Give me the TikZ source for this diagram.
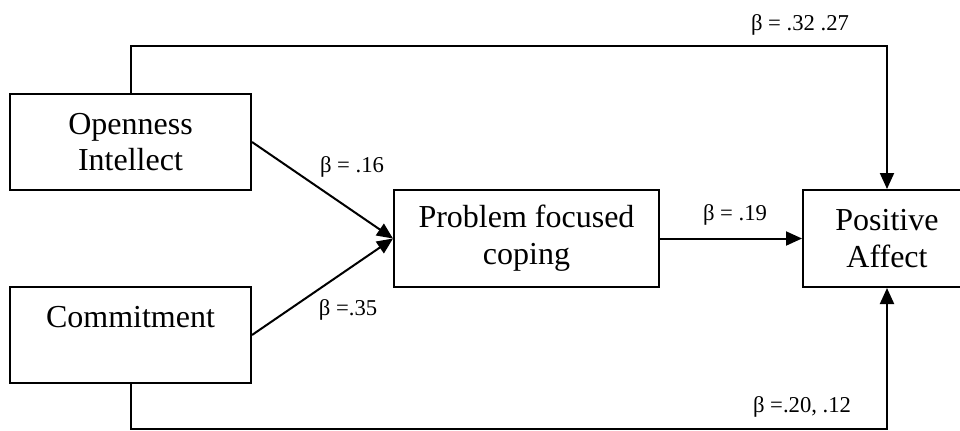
\documentclass[tikz,border=0pt]{standalone}
\usepackage{fontspec}
\setmainfont{Liberation Serif}
\usetikzlibrary{arrows.meta}
\begin{document}
\begin{tikzpicture}[x=0.75pt,y=-0.75pt,
  box/.style={draw,line width=1.5pt,inner sep=0pt,align=center,
    font=\fontsize{24}{27.6}\selectfont},
  conn/.style={line width=1.5pt},
  arr/.style={conn,-{Triangle[length=12pt,width=10.5pt]}},
  lbl/.style={font=\fontsize{17}{19}\selectfont,inner sep=0pt}]
\useasboundingbox (0,0) rectangle (960,430);
\clip (0,0) rectangle (960,430);
\fill[white] (0,0) rectangle (960,430);
\node[box,minimum width=180.75pt,minimum height=72pt] (open) at (130.5,142) {Openness\\Intellect};
\node[box,minimum width=180.75pt,minimum height=72pt] (comm) at (130.5,335) {};
\node[font=\fontsize{24}{27.6}\selectfont,inner sep=0pt] (commtxt) at (130.5,317) {Commitment};
\node[box,minimum width=198.75pt,minimum height=72.75pt] (pfc) at (526.5,238.5) {Problem focused\\coping};
\node[box,minimum width=126pt,minimum height=72.75pt] (pa) at (887,238.5) {Positive\\Affect};
\coordinate (topy) at (0,46);
\coordinate (boty) at (0,428.5);
\draw[arr] (open.north) -- (open.north |- topy) -| (pa.north);
\draw[arr] (comm.south) -- (comm.south |- boty) -| (pa.south);
\draw[arr] (open.east) -- (pfc.west);
\draw[arr] (comm.east) -- (pfc.west);
\draw[arr] (pfc.east) -- (pa.west);
\node[lbl] (l1) at (352,167) {β = .16};
\node[lbl] (l2) at (348,310) {β =.35};
\node[lbl] (l3) at (735,215) {β = .19};
\node[lbl] (l4) at (800,25) {β = .32 .27};
\node[lbl] (l5) at (802,407) {β =.20, .12};
\end{tikzpicture}
\end{document}
